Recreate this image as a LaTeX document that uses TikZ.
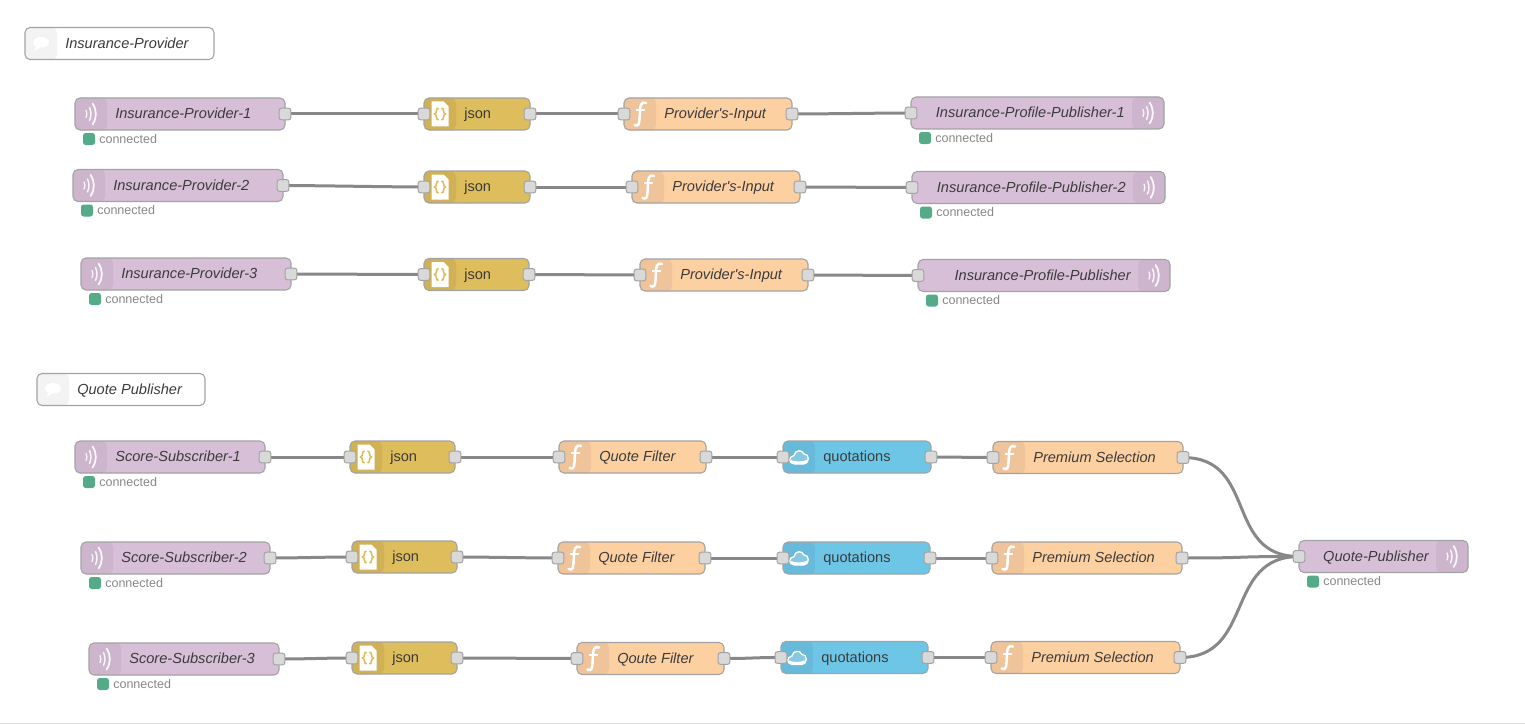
\documentclass[tikz,border=0pt]{standalone}
\usepackage{fontspec}
\setmainfont{Liberation Sans}[Ligatures=TeXOff]
\usetikzlibrary{backgrounds}
\definecolor{edgegray}{HTML}{A3A3A3}
\definecolor{wiregray}{HTML}{888888}
\definecolor{portgray}{HTML}{D9D9D9}
\definecolor{mqttfill}{HTML}{D8BFD8}
\definecolor{mqtttab}{HTML}{CDB5CD}
\definecolor{jsonfill}{HTML}{DEBD5C}
\definecolor{jsontab}{HTML}{D0B155}
\definecolor{funcfill}{HTML}{FDD0A2}
\definecolor{functab}{HTML}{EFC49A}
\definecolor{cloudfill}{HTML}{6EC6E6}
\definecolor{cloudtab}{HTML}{67BAD9}
\definecolor{notetab}{HTML}{F3F3F3}
\definecolor{okgreen}{HTML}{55AA88}
\definecolor{textdark}{HTML}{3C3C3C}
\definecolor{textgray}{HTML}{888888}
\tikzset{
	flowbox/.style={draw=edgegray,line width=.8pt,rounded corners=3.75pt,minimum height=24pt,inner sep=0pt},
	lefttab/.style={path picture={\fill[#1] (path picture bounding box.north west) rectangle ++(24pt,-24pt);}},
	righttab/.style={path picture={\fill[#1] (path picture bounding box.north east) rectangle ++(-24pt,-24pt);}},
	mqttleft/.style={flowbox,fill=mqttfill,lefttab=mqtttab},
	mqttright/.style={flowbox,fill=mqttfill,righttab=mqtttab},
	jsonbox/.style={flowbox,fill=jsonfill,lefttab=jsontab},
	funcbox/.style={flowbox,fill=funcfill,lefttab=functab},
	cloudbox/.style={flowbox,fill=cloudfill,lefttab=cloudtab},
	notebox/.style={flowbox,fill=white,lefttab=notetab},
	portbox/.style={draw=edgegray,line width=.75pt,fill=portgray,rounded corners=1.8pt,minimum size=8.8pt,inner sep=0pt},
	italbl/.style={font=\fontsize{10.95}{13}\selectfont\itshape,text=textdark,inner sep=0pt,text height=8pt,text depth=2.3pt,yshift=-.75pt},
	plainlbl/.style={font=\fontsize{10.95}{13}\selectfont,text=textdark,inner sep=0pt,text height=8pt,text depth=2.3pt,yshift=-.75pt},
	statlbl/.style={font=\fontsize{9.4}{11}\selectfont,text=textgray,inner sep=0pt,text height=7pt,text depth=2pt,yshift=-.75pt},
	dotbox/.style={fill=okgreen,rounded corners=2pt,minimum size=9pt,inner sep=0pt},
	wire/.style={draw=wiregray,line width=2.25pt},
	pics/waveicon/.style={code={
		\draw[white,opacity=.85,line width=1pt,line cap=round] (-5,-3.5) .. controls (-3.8,-1) and (-3.8,1) .. (-5,3.5);
		\draw[white,opacity=.85,line width=1.1pt,line cap=round] (-1.5,-6.5) .. controls (.5,-2) and (.5,2) .. (-1.5,6.5);
		\draw[white,opacity=.9,line width=1.3pt,line cap=round] (1.5,-10.5) .. controls (6,-4) and (6,4) .. (1.5,10.5);
	}},
	pics/jsonicon/.style={code={
		\fill[white] (-8.5,-12.5) -- (3.5,-12.5) -- (8.5,-7.5) -- (8.5,12.5) -- (-8.5,12.5) -- cycle;
		\draw[jsonfill,line width=1.2pt] (-1.5,-6) .. controls (-4.5,-6) and (-2.5,-.8) .. (-5.5,0) .. controls (-2.5,.8) and (-4.5,6) .. (-1.5,6);
		\draw[jsonfill,line width=1.2pt] (1.5,-6) .. controls (4.5,-6) and (2.5,-.8) .. (5.5,0) .. controls (2.5,.8) and (4.5,6) .. (1.5,6);
	}},
	pics/funcicon/.style={code={
		\draw[white,line width=1.9pt,line cap=round] (6,-11) .. controls (1,-13) and (0,-8) .. (0,-3) -- (-.5,5) .. controls (-.8,11) and (-2,12.5) .. (-5.5,11);
		\draw[white,line width=1.5pt] (-4.5,-4) -- (5,-4);
	}},
	pics/cloudicon/.style={code={
		\draw[white,line width=1pt,fill=white,fill opacity=.22] (-5,6.5) .. controls (-10.5,6.5) and (-11,-.5) .. (-5,-1.5) .. controls (-4,-7) and (3,-8) .. (5,-3) .. controls (10.5,-3.5) and (11,6.5) .. (5,6.5) -- cycle;
		\fill[white] (-8.3,3) .. controls (-4,5) and (4,5) .. (8.8,2.5) .. controls (9.3,6) and (7,7.5) .. (5,7.5) -- (-5,7.5) .. controls (-7,7.5) and (-8.8,6) .. (-8.3,3) -- cycle;
	}},
	pics/noteicon/.style={code={
		\fill[white] (0,-6.5) .. controls (5,-6.5) and (8,-4) .. (8,-1) .. controls (8,2.5) and (4,4) .. (-1,4) .. controls (-3,6) and (-5,7) .. (-7,7) .. controls (-6,6) and (-5,4.5) .. (-5,3) .. controls (-7,2) and (-8,.5) .. (-8,-1) .. controls (-8,-4) and (-5,-6.5) .. (0,-6.5) -- cycle;
	}}
}
% #1 name, #2 left, #3 right, #4 centre y, #5 text
\newcommand{\statusline}[3]{
	\node[dotbox] (#1-dot) at (#2+14,#3+25) {};
	\node[statlbl,anchor=west] (#1-stat) at (#2+24,#3+25) {connected};
}
\newcommand{\srcnode}[5]{
	\pgfmathsetmacro{\boxw}{(#3-#2)*0.75}
	\node[mqttleft,minimum width=\boxw pt] (#1) at ({(#2+#3)/2},#4) {};
	\pic at (#2+16,#4) {waveicon};
	\node[italbl,anchor=west] (#1-txt) at (#2+40,#4) {#5};
	\node[portbox] (#1-out) at (#3,#4) {};
	\statusline{#1}{#2}{#4}
}
\newcommand{\dstnode}[5]{
	\pgfmathsetmacro{\boxw}{(#3-#2)*0.75}
	\node[mqttright,minimum width=\boxw pt] (#1) at ({(#2+#3)/2},#4) {};
	\pic at (#3-16,#4) {waveicon};
	\node[italbl,anchor=east] (#1-txt) at (#3-39,#4) {#5};
	\node[portbox] (#1-in) at (#2,#4) {};
	\statusline{#1}{#2}{#4}
}
% #1 box style, #2 icon, #3 text style, #4 name, #5 left, #6 right, #7 centre y, #8 text
\newcommand{\midnode}[8]{
	\pgfmathsetmacro{\boxw}{(#6-#5)*0.75}
	\node[#1,minimum width=\boxw pt] (#4) at ({(#5+#6)/2},#7) {};
	\pic at (#5+16,#7) {#2};
	\node[#3,anchor=west] (#4-txt) at (#5+40,#7) {#8};
	\node[portbox] (#4-in) at (#5,#7) {};
	\node[portbox] (#4-out) at (#6,#7) {};
}
\newcommand{\jsonnode}[4]{\midnode{jsonbox}{jsonicon}{plainlbl}{#1}{#2}{#3}{#4}{json}}
\newcommand{\funcnode}[5]{\midnode{funcbox}{funcicon}{italbl}{#1}{#2}{#3}{#4}{#5}}
\newcommand{\cloudnode}[4]{\midnode{cloudbox}{cloudicon}{plainlbl}{#1}{#2}{#3}{#4}{quotations}}
\newcommand{\notenode}[5]{
	\pgfmathsetmacro{\boxw}{(#3-#2)*0.75}
	\node[notebox,minimum width=\boxw pt] (#1) at ({(#2+#3)/2},#4) {};
	\pic at (#2+16,#4) {noteicon};
	\node[italbl,anchor=west] (#1-txt) at (#2+40,#4) {#5};
}
\newcommand{\wire}[3]{\draw[wire] (#1.center) .. controls +(#3,0) and +(-#3,0) .. (#2.center);}

\begin{document}
\begin{tikzpicture}[x=0.75pt,y=-0.75pt]
	\useasboundingbox (0,0) rectangle (1525,724);
	%Insurance side
	\notenode{noteA}{25}{214}{43.5}{Insurance-Provider}
	%Row 1
	\srcnode{prov1}{75}{285}{114}{Insurance-Provider-1}
	\jsonnode{jsonA}{424}{530}{114}
	\funcnode{inA}{624}{792}{114}{Provider's-Input}
	\dstnode{pub1}{911}{1164}{113}{Insurance-Profile-Publisher-1}
	%Row 2
	\srcnode{prov2}{73}{283}{185.5}{Insurance-Provider-2}
	\jsonnode{jsonB}{424}{530}{187}
	\funcnode{inB}{632}{800}{187}{Provider's-Input}
	\dstnode{pub2}{912}{1165}{187.5}{Insurance-Profile-Publisher-2}
	%Row 3
	\srcnode{prov3}{81}{291}{274}{Insurance-Provider-3}
	\jsonnode{jsonC}{424}{529}{274.5}
	\funcnode{inC}{640}{808}{275}{Provider's-Input}
	\dstnode{pub3}{918}{1170}{275.5}{Insurance-Profile-Publisher}
	%Quote side
	\notenode{noteB}{37}{205}{389.5}{Quote Publisher}
	%Row 4
	\srcnode{score1}{75}{265}{457}{Score-Subscriber-1}
	\jsonnode{jsonD}{350}{455}{457}
	\funcnode{filtD}{559}{706}{457}{Quote Filter}
	\cloudnode{quotD}{783}{931}{457}
	\funcnode{premD}{993}{1183}{457.5}{Premium Selection}
	%Row 5
	\srcnode{score2}{81}{270}{558}{Score-Subscriber-2}
	\jsonnode{jsonE}{352}{457}{557}
	\funcnode{filtE}{558}{705}{558}{Quote Filter}
	\cloudnode{quotE}{783}{930}{558}
	\funcnode{premE}{992}{1182}{558}{Premium Selection}
	%Row 6
	\srcnode{score3}{89}{279}{659}{Score-Subscriber-3}
	\jsonnode{jsonF}{352}{457}{658}
	\funcnode{filtF}{577}{724}{658.5}{Qoute Filter}
	\cloudnode{quotF}{781}{928}{657.5}
	\funcnode{premF}{991}{1180}{657.5}{Premium Selection}
	%Output
	\dstnode{quotePub}{1299}{1468}{556.5}{Quote-Publisher}
	%Wires
	\begin{scope}[on background layer]
		\foreach \a/\b in {prov1/jsonA,jsonA/inA,inA/pub1,prov2/jsonB,jsonB/inB,inB/pub2,prov3/jsonC,jsonC/inC,inC/pub3,
			score1/jsonD,jsonD/filtD,filtD/quotD,quotD/premD,
			score2/jsonE,jsonE/filtE,filtE/quotE,quotE/premE,
			score3/jsonF,jsonF/filtF,filtF/quotF,quotF/premF}
			{\wire{\a-out}{\b-in}{30}}
		\foreach \a in {premD,premE,premF}
			{\wire{\a-out}{quotePub-in}{75}}
	\end{scope}
	%Page edge
	\coordinate (edgeL) at (0,723.5);
	\coordinate (edgeR) at (1525,723.5);
	\draw[black!12,line width=.75pt] (edgeL) -- (edgeR);
\end{tikzpicture}
\end{document}
